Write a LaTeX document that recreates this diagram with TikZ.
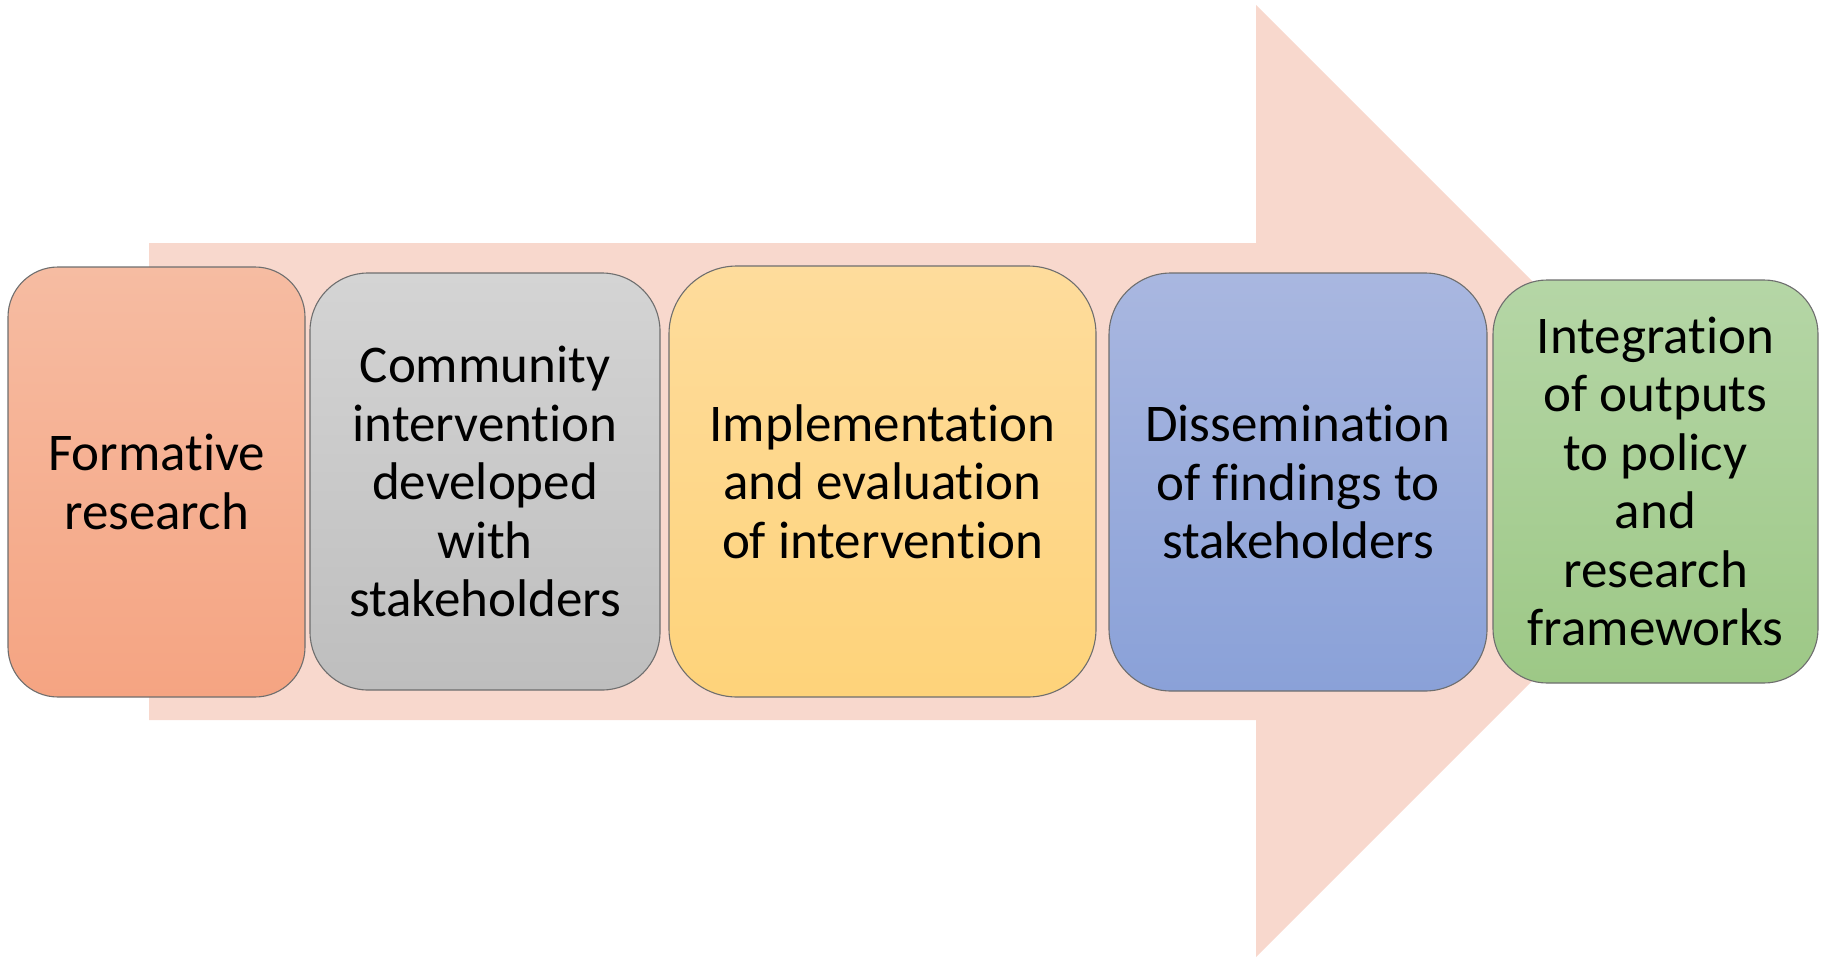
\documentclass[tikz,border=0pt]{standalone}
\usepackage{fontspec}
\setmainfont[Ligatures=NoCommon]{Carlito}
\begin{document}
\begin{tikzpicture}[x=1pt,y=-1pt,
  stepbox/.style={draw=boxline, line width=1.1pt, align=center, inner sep=0pt,
    font=\fontsize{53}{58.5}\selectfont, text=black},
  ]
\definecolor{arrowfill}{HTML}{F8D8CD}
\definecolor{boxline}{HTML}{6E6E6E}
\definecolor{oT}{HTML}{F6BCA2}\definecolor{oB}{HTML}{F5A482}
\definecolor{gT}{HTML}{D4D4D4}\definecolor{gB}{HTML}{BEBEBE}
\definecolor{yT}{HTML}{FEDC9C}\definecolor{yB}{HTML}{FED37A}
\definecolor{bT}{HTML}{A9B7E0}\definecolor{bB}{HTML}{8AA1D8}
\definecolor{nT}{HTML}{B5D6A6}\definecolor{nB}{HTML}{9DC886}
\useasboundingbox (0,0) rectangle (1825,958);
% big background arrow
\fill[arrowfill] (149,243) -- (1256,243) -- (1256,5) -- (1732,481)
  -- (1256,957) -- (1256,720) -- (149,720) -- cycle;
% step boxes
\node[stepbox, top color=oT, bottom color=oB, rounded corners=50pt,
  minimum width=297pt, minimum height=430pt] (b1) at (156.5,482)
  {Formative\\research};
\node[stepbox, top color=gT, bottom color=gB, rounded corners=58pt,
  minimum width=350pt, minimum height=417pt] (b2) at (485,481.5)
  {Community\\intervention\\developed\\with\\stakeholders};
\node[stepbox, top color=yT, bottom color=yB, rounded corners=68pt,
  minimum width=427pt, minimum height=431pt] (b3) at (882.5,481.5)
  {Implementation\\and evaluation\\of intervention};
\node[stepbox, top color=bT, bottom color=bB, rounded corners=62pt,
  minimum width=378pt, minimum height=418pt] (b4) at (1298,482)
  {Dissemination\\of findings to\\stakeholders};
\node[stepbox, top color=nT, bottom color=nB, rounded corners=54pt,
  minimum width=325pt, minimum height=403pt] (b5) at (1655.5,481.5)
  {Integration\\of outputs\\to policy\\and\\research\\frameworks};
\end{tikzpicture}
\end{document}
